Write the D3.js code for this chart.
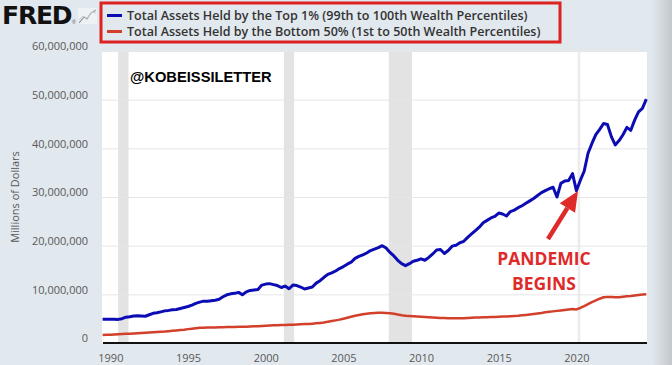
<!DOCTYPE html>
<html>
<head>
<meta charset="utf-8">
<script src="https://cdn.jsdelivr.net/npm/d3@7"></script>
<style>
  html, body { margin: 0; padding: 0; background: #e1e8ee; }
  svg { display: block; }
</style>
</head>
<body>
<svg id="chart" width="672" height="365"></svg>
<script>
// quarterly values, millions of dollars / 1e6, first quarter = 1989 Q3
const firstQuarter = 1989.5;

const top1 = [
  4.87, 4.9,
  4.9, 4.9, 4.85, 5.0,
  5.3, 5.4, 5.55, 5.6,
  5.55, 5.5, 5.8, 6.1,
  6.2, 6.4, 6.6, 6.7,
  6.85, 6.9, 7.1, 7.3,
  7.5, 7.8, 8.15, 8.4,
  8.6, 8.6, 8.7, 8.8,
  9.0, 9.5, 9.9, 10.1,
  10.2, 10.4, 9.9, 10.5,
  10.8, 10.9, 11.0, 11.9,
  12.1, 12.2, 12.0, 11.8,
  11.4, 11.7, 11.15, 11.9,
  11.8, 11.5, 11.1, 11.3,
  11.5, 12.3, 12.8, 13.5,
  14.1, 14.4, 14.8, 15.3,
  15.7, 16.2, 16.6, 17.4,
  17.8, 18.1, 18.5, 19.0,
  19.3, 19.6, 20.0, 19.5,
  18.6, 17.9, 17.0, 16.3,
  15.9, 16.3, 16.8, 17.0,
  17.3, 17.0, 17.6, 18.3,
  19.1, 19.2, 18.4, 19.0,
  19.9, 20.1, 20.6, 20.9,
  21.7, 22.4, 23.1, 23.8,
  24.7, 25.2, 25.7, 26.0,
  26.7, 26.5, 26.1, 27.0,
  27.3, 27.8, 28.2, 28.7,
  29.2, 29.7, 30.3, 30.9,
  31.3, 31.7, 32.0, 30.0,
  32.8, 33.3, 33.4, 34.8,
  31.3, 33.4, 35.3, 39.0,
  41.0, 42.8, 43.9, 45.1,
  44.9, 42.4, 40.7, 41.6,
  42.8, 44.3, 43.7, 45.8,
  47.5, 48.2, 50.1
];

const bottom50 = [
  1.65, 1.7,
  1.72, 1.76, 1.8, 1.84,
  1.88, 1.92, 1.96, 2.0,
  2.05, 2.1, 2.15, 2.2,
  2.25, 2.3, 2.35, 2.42,
  2.5, 2.58, 2.66, 2.74,
  2.85, 2.95, 3.05, 3.12,
  3.15, 3.17, 3.19, 3.21,
  3.23, 3.25, 3.27, 3.29,
  3.3, 3.32, 3.33, 3.35,
  3.38, 3.42, 3.46, 3.5,
  3.55, 3.6, 3.63, 3.66,
  3.7, 3.72, 3.74, 3.76,
  3.8, 3.84, 3.88, 3.92,
  3.98, 4.05, 4.12, 4.2,
  4.35, 4.5, 4.65, 4.8,
  5.0, 5.2, 5.4, 5.6,
  5.75, 5.9, 6.0, 6.1,
  6.15, 6.2, 6.2, 6.15,
  6.1, 6.0, 5.85, 5.7,
  5.6, 5.55, 5.5, 5.45,
  5.4, 5.35, 5.3, 5.25,
  5.2, 5.15, 5.12, 5.1,
  5.07, 5.07, 5.08, 5.1,
  5.15, 5.2, 5.22, 5.25,
  5.28, 5.3, 5.33, 5.36,
  5.4, 5.43, 5.46, 5.5,
  5.55, 5.6, 5.68, 5.76,
  5.85, 5.95, 6.05, 6.15,
  6.3, 6.4, 6.5, 6.6,
  6.7, 6.8, 6.9, 7.0,
  6.9, 7.2, 7.6, 8.0,
  8.4, 8.75, 9.1, 9.4,
  9.45, 9.45, 9.4, 9.4,
  9.5, 9.6, 9.65, 9.75,
  9.85, 9.95, 10.0
];

const recessions = [[1990.5, 1991.17], [2001.17, 2001.83], [2007.92, 2009.42], [2020.08, 2020.25]];
const xTicks = [1990, 1995, 2000, 2005, 2010, 2015, 2020];
const yTicks = [0, 10, 20, 30, 40, 50, 60];
const legendLabels = [
  'Total Assets Held by the Top 1% (99th to 100th Wealth Percentiles)',
  'Total Assets Held by the Bottom 50% (1st to 50th Wealth Percentiles)'
];
const seriesColors = ['#0c0cb4', '#d2402c'];

const svg = d3.select('#chart');
const W = 672, H = 365;
const plot = { left: 102, right: 647, top: 51, bottom: 343 };

const x = d3.scaleLinear().domain([firstQuarter, 2024.5]).range([102.6, 646.3]);
const y = d3.scaleLinear().domain([0, 60]).range([plot.bottom, plot.top]);

// background + right grey edge
svg.append('rect').attr('width', W).attr('height', H).attr('fill', '#e1e8ee');
const defs = svg.append('defs');
const grad = defs.append('linearGradient').attr('id', 'edge').attr('x1', 0).attr('x2', 1);
grad.append('stop').attr('offset', 0).attr('stop-color', '#e1e8ee');
grad.append('stop').attr('offset', 1).attr('stop-color', '#c4c8cc');
svg.append('rect').attr('x', 652).attr('y', 0).attr('width', 20).attr('height', H).attr('fill', 'url(#edge)');

// plot area
svg.append('rect')
  .attr('x', plot.left).attr('y', plot.top)
  .attr('width', plot.right - plot.left).attr('height', plot.bottom - plot.top)
  .attr('fill', '#fff');

// recession bars
svg.append('g').selectAll('rect')
  .data(recessions)
  .enter()
  .append('rect')
  .attr('x', d => x(d[0]))
  .attr('width', d => Math.max(1.5, x(d[1]) - x(d[0])))
  .attr('y', plot.top)
  .attr('height', plot.bottom - plot.top)
  .attr('fill', (d, i) => i === 3 ? '#ececec' : '#e3e3e3');

// y grid + labels
const yAxis = d3.axisLeft(y)
  .tickValues(yTicks)
  .tickSize(-(plot.right - plot.left))
  .tickPadding(14)
  .tickFormat(d => d3.format(',')(d * 1e6));

const yg = svg.append('g')
  .attr('transform', `translate(${plot.left},0)`)
  .call(yAxis);
yg.select('.domain').remove();
yg.selectAll('.tick line').attr('stroke', '#e6e6e6').attr('stroke-width', 1);
yg.selectAll('.tick text')
  .attr('dy', '-0.12em')
  .attr('fill', '#595959')
  .style('font-family', '"Open Sans", sans-serif')
  .style('font-size', '11px');

// x axis
const xAxis = d3.axisBottom(x)
  .tickValues(xTicks)
  .tickSize(0)
  .tickPadding(11)
  .tickFormat(d3.format('d'));

const xg = svg.append('g')
  .attr('transform', `translate(0,${plot.bottom})`)
  .call(xAxis);
xg.select('.domain').remove();
xg.selectAll('.tick text')
  .attr('fill', '#595959')
  .style('font-family', '"Open Sans", sans-serif')
  .style('font-size', '11px');

svg.append('line')
  .attr('x1', plot.left + 1).attr('x2', plot.right)
  .attr('y1', plot.bottom).attr('y2', plot.bottom)
  .attr('stroke', '#111').attr('stroke-width', 2);

// y title
svg.append('text')
  .attr('transform', `translate(19,197) rotate(-90)`)
  .attr('text-anchor', 'middle')
  .attr('fill', '#595959')
  .style('font-family', '"Open Sans", sans-serif')
  .style('font-size', '11px')
  .text('Millions of Dollars');

// series
const line = d3.line()
  .x((d, i) => x(firstQuarter + i / 4))
  .y(d => y(d));

svg.append('path')
  .datum(bottom50)
  .attr('fill', 'none')
  .attr('stroke', seriesColors[1])
  .attr('stroke-width', 2.5)
  .attr('stroke-linejoin', 'round')
  .attr('d', line);

svg.append('path')
  .datum(top1)
  .attr('fill', 'none')
  .attr('stroke', seriesColors[0])
  .attr('stroke-width', 3)
  .attr('stroke-linejoin', 'round')
  .attr('d', line);

// FRED logo
svg.append('text')
  .attr('x', 2).attr('y', 24)
  .attr('fill', '#111')
  .style('font-family', '"DejaVu Sans", sans-serif')
  .style('font-weight', 'bold')
  .style('font-size', '25px')
  .style('letter-spacing', '-1.2px')
  .text('FRED');
svg.append('text')
  .attr('x', 72).attr('y', 24)
  .attr('fill', '#555')
  .style('font-family', '"Liberation Sans", Arial, sans-serif')
  .style('font-size', '5px')
  .text('®');
const icon = svg.append('g').attr('transform', 'translate(78,8)');
icon.append('rect').attr('width', 19).attr('height', 16).attr('fill', '#eef2f5');
icon.append('path')
  .attr('d', 'M1,15 L6,9 L9,11 L13,5 L18,2')
  .attr('fill', 'none').attr('stroke', '#9aa3ab').attr('stroke-width', 1.2);
icon.append('path')
  .attr('d', 'M1,12 L5,8 L9,10 L14,4 L18,5')
  .attr('fill', 'none').attr('stroke', '#c5ccd2').attr('stroke-width', 1);

// legend
svg.append('rect')
  .attr('x', 101).attr('y', 3)
  .attr('width', 459).attr('height', 39)
  .attr('fill', 'none')
  .attr('stroke', '#dd2222')
  .attr('stroke-width', 3);

const legend = svg.append('g').selectAll('g')
  .data(legendLabels)
  .enter()
  .append('g')
  .attr('transform', (d, i) => `translate(107,${15.5 + i * 16})`);

legend.append('line')
  .attr('x1', 0).attr('x2', 15)
  .attr('stroke', (d, i) => seriesColors[i])
  .attr('stroke-width', 3);

legend.append('text')
  .attr('x', 20).attr('y', 4.5)
  .attr('fill', '#333')
  .style('font-family', '"Open Sans", sans-serif')
  .style('font-weight', 600)
  .style('font-size', '12px')
  .text(d => d);

// fit legend text widths to the original
const legendWidths = [401, 414];
legend.selectAll('text').each(function(d) {
  const w = this.getComputedTextLength();
  const target = legendWidths[legendLabels.indexOf(d)];
  d3.select(this).style('font-size', (12 * target / w).toFixed(2) + 'px');
});

// annotations
svg.append('text')
  .attr('x', 130).attr('y', 82)
  .attr('fill', '#000')
  .style('font-family', '"Liberation Sans", Arial, sans-serif')
  .style('font-weight', 'bold')
  .style('font-size', '14.7px')
  .text('@KOBEISSILETTER');

const red = '#df2a2a';
svg.append('text')
  .attr('x', 544).attr('y', 265)
  .attr('text-anchor', 'middle')
  .attr('fill', red)
  .style('font-family', '"Open Sans", sans-serif')
  .style('font-weight', 'bold')
  .style('font-size', '17.5px')
  .text('PANDEMIC');
svg.append('text')
  .attr('x', 544).attr('y', 290)
  .attr('text-anchor', 'middle')
  .attr('fill', red)
  .style('font-family', '"Open Sans", sans-serif')
  .style('font-weight', 'bold')
  .style('font-size', '17.5px')
  .text('BEGINS');

// arrow
const tail = [548, 239], tip = [578, 191];
const ang = Math.atan2(tip[1] - tail[1], tip[0] - tail[0]);
const headLen = 20, headHalf = 9;
const base = [tip[0] - headLen * Math.cos(ang), tip[1] - headLen * Math.sin(ang)];
svg.append('line')
  .attr('x1', tail[0]).attr('y1', tail[1])
  .attr('x2', base[0]).attr('y2', base[1])
  .attr('stroke', red).attr('stroke-width', 4.5);
svg.append('path')
  .attr('d', d3.line()([
    tip,
    [base[0] + headHalf * Math.sin(ang), base[1] - headHalf * Math.cos(ang)],
    [base[0] - headHalf * Math.sin(ang), base[1] + headHalf * Math.cos(ang)]
  ]) + 'Z')
  .attr('fill', red);
</script>
</body>
</html>
